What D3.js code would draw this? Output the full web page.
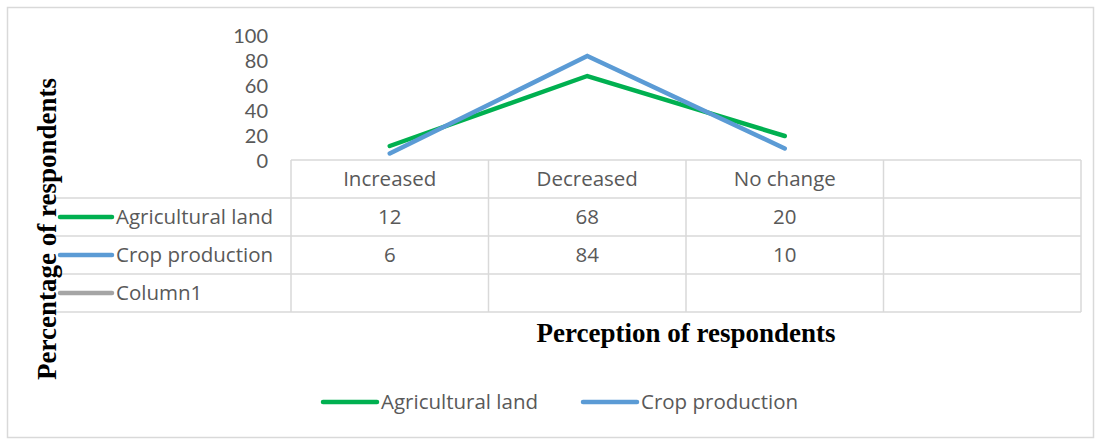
<!DOCTYPE html>
<html>
<head>
<meta charset="utf-8">
<script src="https://cdn.jsdelivr.net/npm/d3@7"></script>
<style>
  html, body { margin: 0; padding: 0; background: #fff; }
  svg { display: block; }
</style>
</head>
<body>
<svg id="chart" width="1101" height="440"></svg>
<script>
// Categories along the x axis (last column is left empty in the data table)
const categories = ["Increased", "Decreased", "No change", ""];
const seriesNames = ["Agricultural land", "Crop production", "Column1"];
const agriculturalLand = [12, 68, 20];
const cropProduction = [6, 84, 10];
const column1 = [];
const yTicks = [0, 20, 40, 60, 80, 100];
const colors = ["#00B050", "#5B9BD5", "#A5A5A5"];

const series = [
  { name: seriesNames[0], values: agriculturalLand, color: colors[0] },
  { name: seriesNames[1], values: cropProduction, color: colors[1] },
  { name: seriesNames[2], values: column1, color: colors[2] }
];

const svg = d3.select("#chart");
const font = "'Open Sans', Lato, sans-serif";
const fontSize = 20.5;
const tickFont = "Lato, 'Open Sans', sans-serif";
const textColor = "#595959";
const gridColor = "#D9D9D9";

// Chart frame
svg.append("rect")
  .attr("x", 7.5).attr("y", 7.5)
  .attr("width", 1086).attr("height", 430)
  .attr("fill", "#fff").attr("stroke", gridColor).attr("stroke-width", 1.5);

const x = d3.scaleBand().domain(categories).range([291, 1081]);
const y = d3.scaleLinear().domain([0, 100]).range([161, 36]);

// Y axis labels
const yAxis = d3.axisLeft(y).tickValues(yTicks).tickSize(0).tickPadding(23);
const gy = svg.append("g").attr("transform", "translate(291,0)").call(yAxis);
gy.select(".domain").remove();
gy.selectAll("text")
  .attr("font-family", tickFont).attr("font-size", 20).attr("fill", textColor);

// Lines
const line = d3.line()
  .x((d, i) => x(categories[i]) + x.bandwidth() / 2)
  .y(d => y(d));

series.filter(s => s.values.length).forEach(s => {
  svg.append("path")
    .datum(s.values)
    .attr("d", line)
    .attr("fill", "none")
    .attr("stroke", s.color)
    .attr("stroke-width", 4.5)
    .attr("stroke-linecap", "round")
    .attr("stroke-linejoin", "miter");
});

// Data table
const rowTop = 160;
const rowH = 38;
const tableRows = series.length + 1;
const tableLeftLabel = 55;
const grid = svg.append("g").attr("stroke", gridColor).attr("stroke-width", 1.5);

// horizontal lines
for (let r = 0; r <= tableRows; r++) {
  const yy = rowTop + r * rowH;
  grid.append("line")
    .attr("x1", r === 0 ? x.range()[0] : tableLeftLabel).attr("x2", x.range()[1])
    .attr("y1", yy).attr("y2", yy);
}
// vertical lines
categories.forEach((c, i) => {
  const xx = x(c);
  grid.append("line").attr("x1", xx).attr("x2", xx)
    .attr("y1", rowTop).attr("y2", rowTop + tableRows * rowH);
});
grid.append("line").attr("x1", x.range()[1]).attr("x2", x.range()[1])
  .attr("y1", rowTop).attr("y2", rowTop + tableRows * rowH);

// header row
svg.append("g").selectAll("text")
  .data(categories)
  .join("text")
  .attr("x", d => x(d) + x.bandwidth() / 2)
  .attr("y", rowTop + rowH / 2)
  .attr("dy", "0.35em")
  .attr("text-anchor", "middle")
  .attr("font-family", font).attr("font-size", fontSize).attr("fill", textColor)
  .text(d => d);

// series rows
series.forEach((s, r) => {
  const cy = rowTop + (r + 1) * rowH + rowH / 2;
  svg.append("line")
    .attr("x1", 60).attr("x2", 112)
    .attr("y1", cy).attr("y2", cy)
    .attr("stroke", s.color).attr("stroke-width", 4.5)
    .attr("stroke-linecap", "round");
  svg.append("text")
    .attr("x", 116).attr("y", cy).attr("dy", "0.35em")
    .attr("font-family", font).attr("font-size", fontSize).attr("fill", textColor)
    .text(s.name);
  svg.append("g").selectAll("text")
    .data(s.values)
    .join("text")
    .attr("x", (d, i) => x(categories[i]) + x.bandwidth() / 2)
    .attr("y", cy).attr("dy", "0.35em")
    .attr("text-anchor", "middle")
    .attr("font-family", font).attr("font-size", fontSize).attr("fill", textColor)
    .text(d => d);
});

// Axis titles
const titleFont = "'Liberation Serif', 'Times New Roman', serif";
svg.append("text")
  .attr("x", 686).attr("y", 333).attr("dy", "0.35em")
  .attr("text-anchor", "middle")
  .attr("font-family", titleFont).attr("font-weight", "bold").attr("font-size", 27)
  .attr("fill", "#000")
  .text("Perception of respondents");

svg.append("text")
  .attr("transform", "translate(47,229) rotate(-90)")
  .attr("dy", "0.35em")
  .attr("text-anchor", "middle")
  .attr("font-family", titleFont).attr("font-weight", "bold").attr("font-size", 27)
  .attr("fill", "#000")
  .text("Percentage of respondents");

// Legend
const legendItems = series.slice(0, 2);
const legendX = [323, 583];
legendItems.forEach((s, i) => {
  const ly = 402;
  svg.append("line")
    .attr("x1", legendX[i]).attr("x2", legendX[i] + 54)
    .attr("y1", ly).attr("y2", ly)
    .attr("stroke", s.color).attr("stroke-width", 4.5)
    .attr("stroke-linecap", "round");
  svg.append("text")
    .attr("x", legendX[i] + 58).attr("y", ly).attr("dy", "0.35em")
    .attr("font-family", font).attr("font-size", fontSize).attr("fill", textColor)
    .text(s.name);
});
</script>
</body>
</html>
